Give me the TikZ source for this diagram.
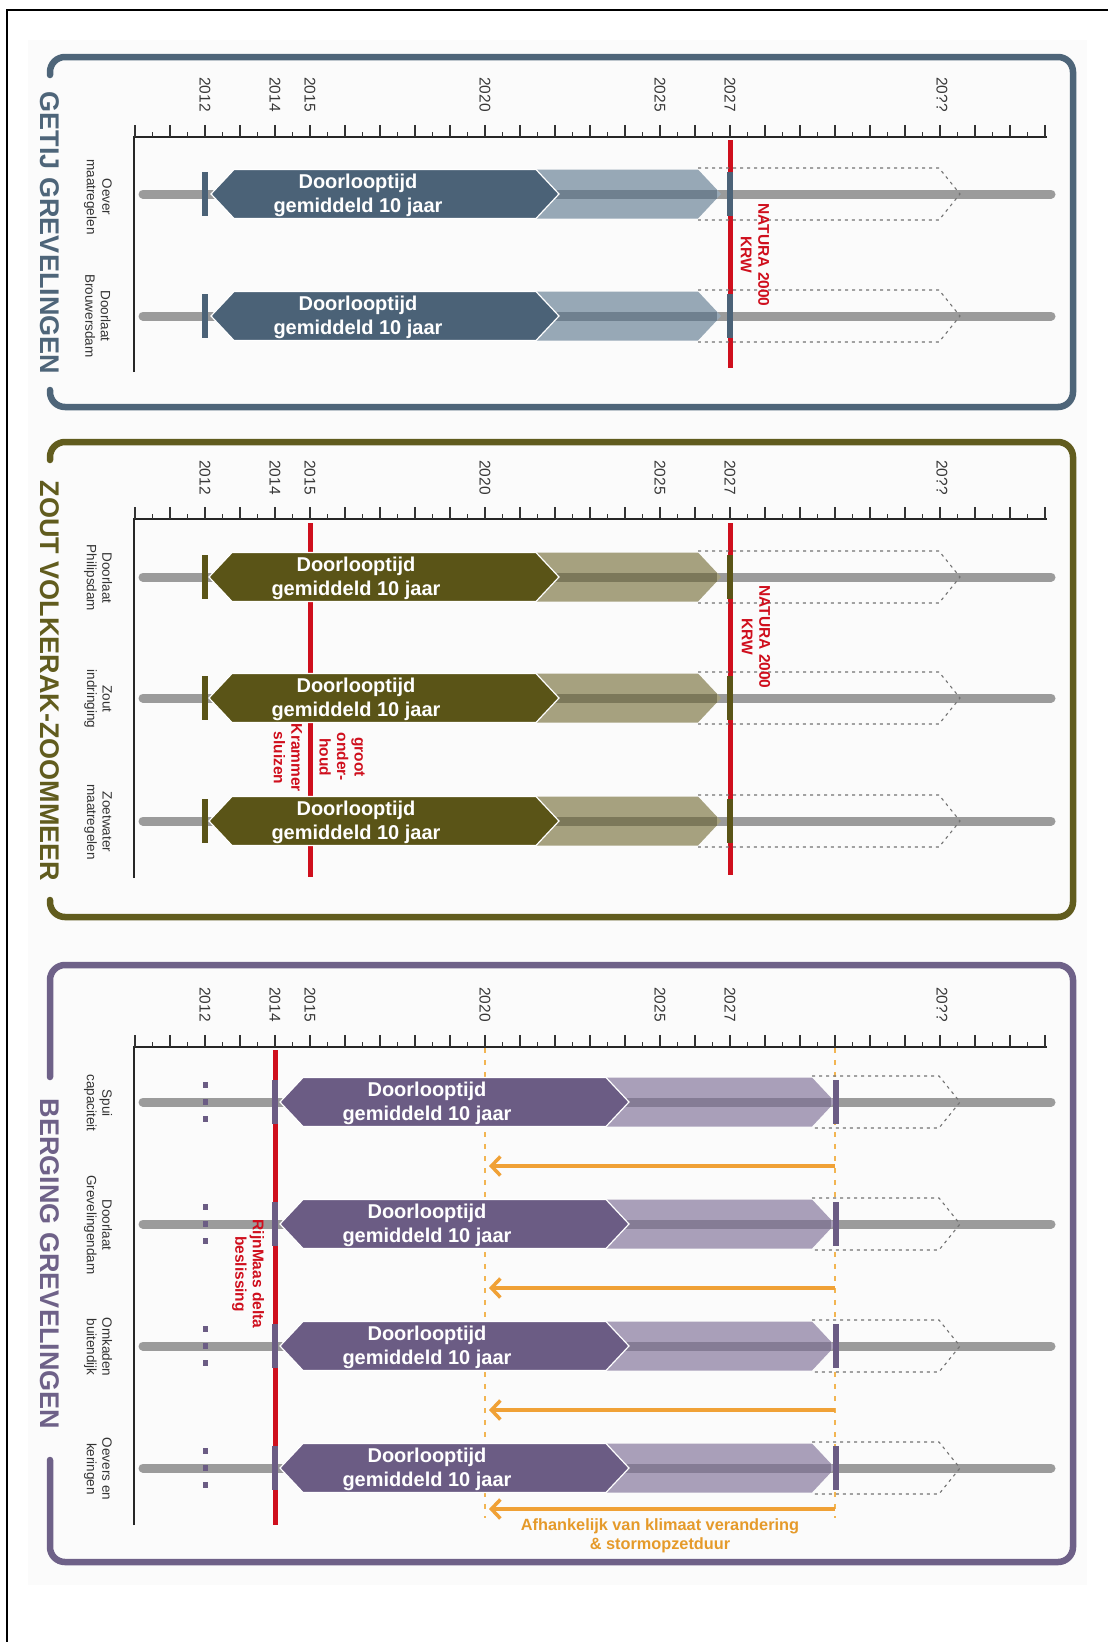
\documentclass[tikz,border=0pt]{standalone}
\usepackage{fontspec}
\setmainfont{Liberation Sans}
\usetikzlibrary{arrows.meta}

% colour sets: D = dark phase, L = light phase, S = stripe in light phase, B = frame/title
\definecolor{slD}{HTML}{4B6277}
\definecolor{slL}{HTML}{97A8B6}
\definecolor{slS}{HTML}{6F808F}
\definecolor{slB}{HTML}{4E6579}
\definecolor{olD}{HTML}{5A5417}
\definecolor{olL}{HTML}{A6A17F}
\definecolor{olS}{HTML}{7C785A}
\definecolor{olB}{HTML}{615C1E}
\definecolor{puD}{HTML}{6B5C84}
\definecolor{puL}{HTML}{A99FB9}
\definecolor{puS}{HTML}{857C95}
\definecolor{puB}{HTML}{6E6188}
\definecolor{barGrey}{HTML}{9B9B9B}
\definecolor{redL}{HTML}{CF0F1D}
\definecolor{orL}{HTML}{F0A136}
\definecolor{orT}{HTML}{E59A2A}
\definecolor{orDash}{HTML}{F2B552}
\definecolor{paper}{HTML}{FBFBFB}

\tikzset{
  panelframe/.style={line width=6.5, rounded corners=15, line cap=round},
  paneltitle/.style={rotate=-90, inner sep=0, font=\bfseries\fontsize{27}{30}\selectfont},
  axisline/.style={line width=1.8, black!85},
  tickline/.style={line width=1.2, black!80},
  yearlbl/.style={rotate=-90, anchor=west, inner sep=0, text=black!78,
    font=\fontsize{15.5}{18}\selectfont},
  rowlbl/.style={rotate=-90, inner sep=0, align=center, text=black!80,
    font=\fontsize{13.5}{15.5}\selectfont},
  greybar/.style={barGrey, line width=9, line cap=round},
  futureline/.style={black!55, line width=1.1, dash pattern=on 3 off 4},
  doortext/.style={inner sep=0, align=center, text=white,
    font=\bfseries\fontsize{20}{24}\selectfont},
  redlbl/.style={rotate=-90, inner sep=0, align=center, text=redL,
    font=\bfseries\fontsize{15.5}{17.5}\selectfont},
  milestone/.style={redL, line width=5},
  ordash/.style={orDash, line width=2.5, dash pattern=on 5 off 7},
  orarrow/.style={orL, line width=3.5, -{Straight Barb[length=9, width=19]}},
}

% one measure: #1 row y, #2 start marker x, #3 left tip, #4 right tip of dark phase,
% #5 tip of light phase, #6 end marker x, #7 colour prefix
\newcommand{\tlrow}[7]{%
  \draw[greybar] (143,#1) -- (1051,#1);
  \draw[futureline] ({#5-23},{#1-26}) -- (939,{#1-26}) -- (960,#1) -- (939,{#1+26}) -- ({#5-23},{#1+26});
  \fill[#7L] ({#4-23},{#1-24.5}) -- ({#5-23},{#1-24.5}) -- (#5,#1) -- ({#5-23},{#1+24.5}) -- ({#4-23},{#1+24.5}) -- cycle;
  \draw[#7S, line width=9] ({#4-23},#1) -- ({#5-4},#1);
  \filldraw[fill=#7D, draw=white, line width=1.2] (#3,#1) -- ({#3+23},{#1-24.5}) -- ({#4-23},{#1-24.5}) -- (#4,#1) -- ({#4-23},{#1+24.5}) -- ({#3+23},{#1+24.5}) -- cycle;
  \fill[#7D] ({#2-3},{#1-22}) rectangle ({#2+3},{#1+22});
  \fill[#7D] ({#6-3},{#1-22}) rectangle ({#6+3},{#1+22});
}

% time axis: #1 axis y, #2 lower end of the vertical axis, #3 top of the year labels, #4 panel id
\newcommand{\timeaxis}[4]{%
  \draw[axisline] (134,#2) -- (134,#1) -- (1047,#1);
  \foreach \i in {0,...,26} \draw[tickline] ({135+35*\i},#1) -- ++(0,-12.5);
  \foreach \i in {0,...,25} \draw[tickline] ({152.5+35*\i},#1) -- ++(0,-5.5);
  \foreach \lbl/\xx in {2012/205,2014/275,2015/310,2020/485,2025/660,2027/730,20??/942}
    \node[yearlbl] (yr#4\xx) at (\xx,#3) {\lbl};
}

\begin{document}
\begin{tikzpicture}[x=1pt, y=-1pt]
\useasboundingbox (0,0) rectangle (1108,1642);
\fill[white] (0,0) rectangle (1108,1642);
\fill[paper] (28,40) rectangle (1087,1585);
\draw[line width=2.5, black] (7,1642) -- (7,10) -- (1108,10);

% ---------------- GETIJ GREVELINGEN ----------------
\draw[panelframe, slB] (50,75) -- (50,57) -- (1073,57) -- (1073,407) -- (50,407) -- (50,390);
\node[paneltitle, text=slB] (title1) at (50,233) {GETIJ GREVELINGEN};
\timeaxis{137}{372}{77}{a}
\draw[milestone] (730,140) -- (730,368);
\tlrow{194}{205}{211}{559}{721}{730}{sl}
\tlrow{316}{205}{211}{559}{721}{730}{sl}
\node[doortext] (d11) at (358,195) {Doorlooptijd\\gemiddeld 10 jaar};
\node[doortext] (d12) at (358,317) {Doorlooptijd\\gemiddeld 10 jaar};
\node[rowlbl] (r11) at (98,197) {Oever\\maatregelen};
\node[rowlbl] (r12) at (98,316) {Doorlaat\\Brouwersdam};
\node[redlbl] (n1) at (755,255) {NATURA 2000\\KRW};

% ---------------- ZOUT VOLKERAK-ZOOMMEER ----------------
\draw[panelframe, olB] (50,460) -- (50,442) -- (1073,442) -- (1073,917) -- (50,917) -- (50,900);
\node[paneltitle, text=olB] (title2) at (50,681) {ZOUT VOLKERAK-ZOOMMEER};
\timeaxis{519}{878}{460}{b}
\draw[milestone] (310,523) -- (310,877);
\draw[milestone] (730,523) -- (730,875);
\tlrow{577}{205}{209}{559}{721}{730}{ol}
\tlrow{698}{205}{209}{559}{721}{730}{ol}
\tlrow{821}{205}{209}{559}{721}{730}{ol}
\node[doortext] (d21) at (356,578) {Doorlooptijd\\gemiddeld 10 jaar};
\node[doortext] (d22) at (356,699) {Doorlooptijd\\gemiddeld 10 jaar};
\node[doortext] (d23) at (356,822) {Doorlooptijd\\gemiddeld 10 jaar};
\node[rowlbl] (r21) at (98,578) {Doorlaat\\Philipsdam};
\node[rowlbl] (r22) at (98,699) {Zout\\indringing};
\node[rowlbl] (r23) at (98,822) {Zoetwater\\maatregelen};
\node[redlbl] (n2) at (756,637) {NATURA 2000\\KRW};
\node[redlbl] (k1) at (342,757) {groot\\onder-\\houd};
\node[redlbl] (k2) at (288,758) {Krammer\\sluizen};

% ---------------- BERGING GREVELINGEN ----------------
\draw[panelframe, puB] (50,1077) -- (50,965) -- (1073,965) -- (1073,1562) -- (50,1562) -- (50,1460);
\node[paneltitle, text=puB] (title3) at (50,1264) {BERGING GREVELINGEN};
\timeaxis{1047}{1525}{987}{c}
\draw[milestone] (275,1050) -- (275,1525);
\draw[ordash] (485,1048) -- (485,1518);
\draw[ordash] (835,1048) -- (835,1518);
\foreach \ry in {1102,1224,1346,1468} {
  \tlrow{\ry}{275}{280}{629}{835}{836}{pu}
  \foreach \dy in {-17,0,17} \fill[puD] (202.5,{\ry+\dy-2.6}) rectangle (208,{\ry+\dy+2.6});
}
\node[doortext] (d31) at (427,1103) {Doorlooptijd\\gemiddeld 10 jaar};
\node[doortext] (d32) at (427,1225) {Doorlooptijd\\gemiddeld 10 jaar};
\node[doortext] (d33) at (427,1347) {Doorlooptijd\\gemiddeld 10 jaar};
\node[doortext] (d34) at (427,1469) {Doorlooptijd\\gemiddeld 10 jaar};
\node[rowlbl] (r31) at (98,1103) {Spui\\capaciteit};
\node[rowlbl] (r32) at (98,1225) {Doorlaat\\Grevelingendam};
\node[rowlbl] (r33) at (98,1347) {Omkaden\\buitendijk};
\node[rowlbl] (r34) at (98,1469) {Oevers en\\keringen};
\node[redlbl] (rm) at (248,1274) {RijnMaas delta\\beslissing};

% climate-dependent shift of the end date
\foreach \k/\ay in {1/1166,2/1288,3/1410,4/1509} {
  \coordinate (oa\k) at (835,\ay);
  \coordinate (ob\k) at (489,\ay);
  \draw[orarrow] (oa\k) -- (ob\k);
}
\node[inner sep=0, align=center, text=orT, font=\bfseries\fontsize{16.3}{19}\selectfont]
  (klim) at (660,1536) {Afhankelijk van klimaat verandering\\\& stormopzetduur};
\end{tikzpicture}
\end{document}
